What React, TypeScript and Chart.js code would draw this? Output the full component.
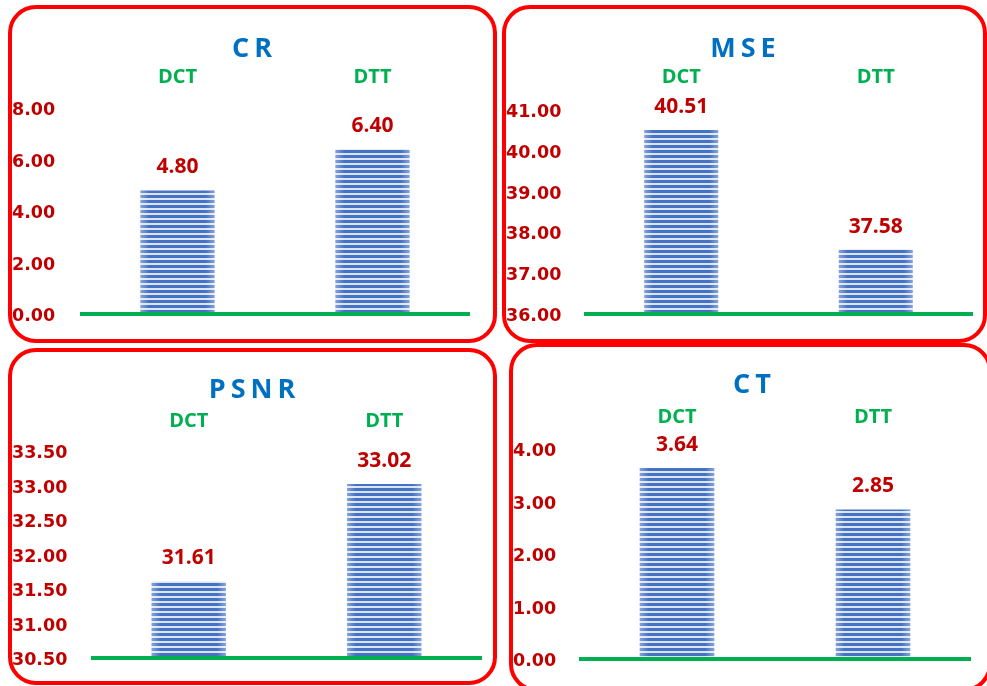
import React, { useEffect, useRef } from "react";
import { Chart, registerables } from "chart.js";

Chart.register(...registerables);

// ---- data ----
const titles = ["CR", "MSE", "PSNR", "CT"];
const categories = ["DCT", "DTT"];
const crValues = [4.8, 6.4];
const mseValues = [40.51, 37.58];
const psnrValues = [31.61, 33.02];
const ctValues = [3.64, 2.85];
const yMins = [0, 36, 30.5, 0];
const yMaxs = [8, 41, 33.5, 4];
const ySteps = [2, 1, 0.5, 1];
const seriesValues = [crValues, mseValues, psnrValues, ctValues];

// ---- layout (page pixels) ----
type Layout = {
  box: [number, number, number, number];
  plot: [number, number, number, number];
  tickX: number;
  titleX: number;
  titleY: number;
  catY: number;
};
const layouts: Layout[] = [
  { box: [8, 5, 489, 338], plot: [80, 108, 470, 314], tickX: 12, titleX: 252, titleY: 49, catY: 77.5 },
  { box: [502, 5, 485, 338], plot: [584, 110, 973, 314], tickX: 506, titleX: 743, titleY: 49, catY: 77.5 },
  { box: [8, 348, 489, 337], plot: [91, 451, 482, 658], tickX: 12, titleX: 252, titleY: 390, catY: 421 },
  { box: [509, 343, 483, 349], plot: [579, 449, 971, 659], tickX: 513, titleX: 752, titleY: 385, catY: 417.5 },
];

const RED = "#C00000";
const GREEN = "#00B050";
const BLUE = "#0070C0";
const CAT_FONT = 20;

function makePattern(): CanvasPattern | string {
  const c = document.createElement("canvas");
  c.width = 4;
  c.height = 5;
  const g = c.getContext("2d");
  if (!g) return "#4472C4";
  g.fillStyle = "#4472C4";
  g.fillRect(0, 0, 4, 5);
  g.fillStyle = "#DCE4F3";
  g.fillRect(0, 3, 4, 2);
  return g.createPattern(c, "repeat") || "#4472C4";
}

function Panel({ idx }: { idx: number }) {
  const ref = useRef<HTMLCanvasElement | null>(null);
  const L = layouts[idx];
  const [bx, by, bw, bh] = L.box;
  const [pl, pt, pr, pb] = L.plot;

  useEffect(() => {
    if (!ref.current) return;
    const values = seriesValues[idx];
    const overlay = {
      id: "overlay" + idx,
      afterDatasetsDraw(chart: any) {
        const ctx = chart.ctx as CanvasRenderingContext2D;
        const area = chart.chartArea;
        const yScale = chart.scales.y;
        const y0 = yScale.getPixelForValue(yMins[idx]);
        const meta = chart.getDatasetMeta(0);
        ctx.save();
        // soft lighter edges on bars
        meta.data.forEach((el: any) => {
          const w = el.width;
          const left = el.x - w / 2;
          const bottom = Math.min(el.base, y0);
          const grad = ctx.createLinearGradient(left, 0, left + w, 0);
          grad.addColorStop(0, "rgba(255,255,255,0.35)");
          grad.addColorStop(0.12, "rgba(255,255,255,0)");
          grad.addColorStop(0.88, "rgba(255,255,255,0)");
          grad.addColorStop(1, "rgba(255,255,255,0.35)");
          ctx.fillStyle = grad;
          ctx.fillRect(left, el.y, w, bottom - el.y);
        });
        ctx.strokeStyle = GREEN;
        ctx.lineWidth = 4;
        ctx.beginPath();
        ctx.moveTo(area.left, y0);
        ctx.lineTo(area.right, y0);
        ctx.stroke();
        // value labels
        ctx.fillStyle = RED;
        ctx.font = "bold 21px 'Open Sans'";
        ctx.textAlign = "center";
        ctx.textBaseline = "middle";
        meta.data.forEach((el: any, i: number) => {
          ctx.fillText(values[i].toFixed(2), el.x, el.y - 23);
        });
        // title
        ctx.fillStyle = BLUE;
        ctx.font = "bold 27px 'Open Sans'";
        (ctx as any).letterSpacing = "5px";
        ctx.fillText(titles[idx], L.titleX - bx + 2.5, L.titleY - by);
        ctx.restore();
      },
    };
    const chart = new Chart(ref.current, {
      type: "bar",
      data: {
        labels: categories,
        datasets: [
          {
            data: values,
            backgroundColor: makePattern() as any,
            borderWidth: 0,
            barPercentage: 1,
            categoryPercentage: 0.38,
          },
        ],
      },
      options: {
        responsive: true,
        maintainAspectRatio: false,
        animation: false,
        layout: {
          padding: {
            left: L.tickX - bx,
            right: bx + bw - pr,
            top: 0,
            bottom: by + bh - pb,
          },
        },
        plugins: {
          legend: { display: false },
          title: { display: false },
          tooltip: { enabled: false },
        },
        scales: {
          x: {
            position: "top",
            grid: { display: false, drawTicks: false },
            border: { display: false },
            ticks: {
              color: GREEN,
              font: { family: "'Open Sans'", size: CAT_FONT, weight: "bold" },
              padding: pt - L.catY - (CAT_FONT * 1.2) / 2,
              maxRotation: 0,
            },
            afterFit: (scale: any) => {
              scale.height = pt - by;
            },
          },
          y: {
            min: yMins[idx],
            max: yMaxs[idx],
            grid: { display: false, drawTicks: false },
            border: { display: false },
            ticks: {
              stepSize: ySteps[idx],
              color: RED,
              crossAlign: "far",
              padding: 0,
              labelOffset: 2.5,
              font: { family: "'DejaVu Sans'", size: 17.5, weight: "bold" },
              callback: (v: any) => Number(v).toFixed(2),
            },
            afterFit: (scale: any) => {
              scale.width = pl - L.tickX;
            },
          },
        },
      },
      plugins: [overlay],
    } as any);
    return () => chart.destroy();
  }, [idx]);

  return (
    <>
      <div
        style={{
          position: "absolute",
          left: bx,
          top: by,
          width: bw,
          height: bh,
          boxSizing: "border-box",
          border: "4px solid #FF0000",
          borderRadius: 28,
        }}
      />
      <div style={{ position: "absolute", left: bx, top: by, width: bw, height: bh }}>
        <canvas ref={ref} />
      </div>
    </>
  );
}

export default function App() {
  useEffect(() => {
    document.body.style.margin = "0";
  }, []);
  return (
    <div
      style={{
        position: "fixed",
        left: 0,
        top: 0,
        width: 987,
        height: 686,
        overflow: "hidden",
        background: "#FFFFFF",
      }}
    >
      {titles.map((_, i) => (
        <Panel key={i} idx={i} />
      ))}
    </div>
  );
}
